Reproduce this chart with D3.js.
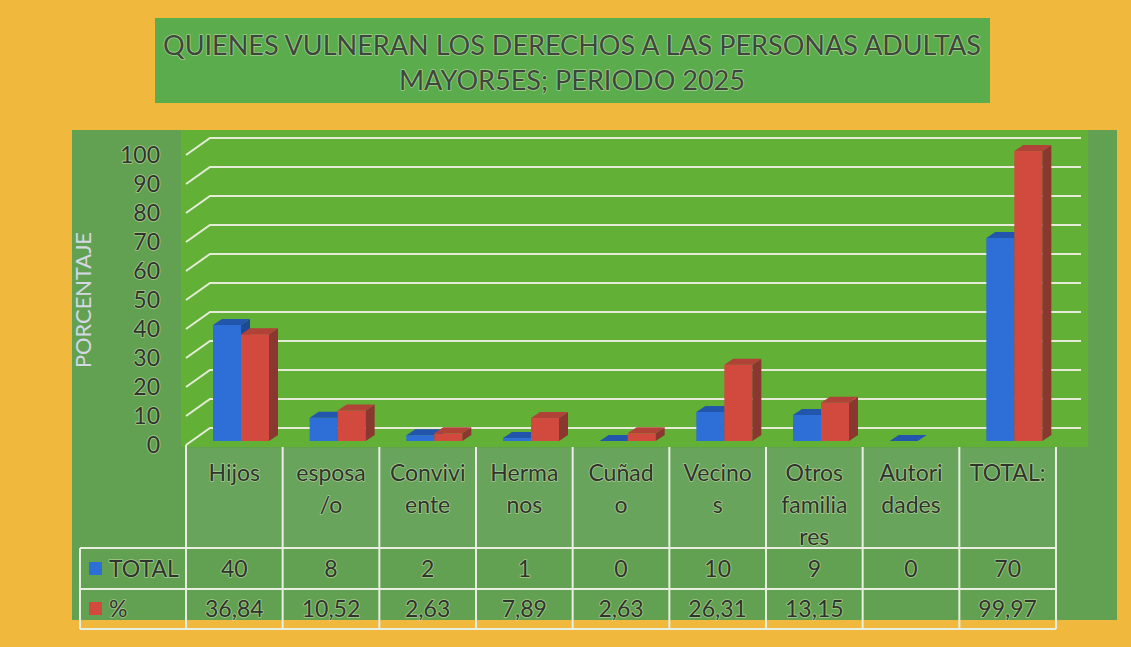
<!DOCTYPE html>
<html>
<head>
<meta charset="utf-8">
<script src="https://cdn.jsdelivr.net/npm/d3@7"></script>
<style>
  html, body { margin: 0; padding: 0; background: #f0b83c; }
  svg { display: block; }
  .emb { paint-order: stroke; stroke: rgba(236,242,205,0.5); stroke-width: 1.6px; stroke-linejoin: round; }
</style>
</head>
<body>
<svg id="chart" width="1131" height="647"></svg>
<script>
// Who violates the rights of older adults, 2025
const titleLines = [
  "QUIENES VULNERAN LOS DERECHOS A LAS PERSONAS ADULTAS",
  "MAYOR5ES; PERIODO 2025"
];
const categories = ["Hijos", "esposa/o", "Conviviente", "Hermanos", "Cuñado",
                    "Vecinos", "Otros familiares", "Autoridades", "TOTAL:"];
const categoryLines = [["Hijos"], ["esposa", "/o"], ["Convivi", "ente"], ["Herma", "nos"],
                       ["Cuñad", "o"], ["Vecino", "s"], ["Otros", "familia", "res"],
                       ["Autori", "dades"], ["TOTAL:"]];
const totalValues = [40, 8, 2, 1, 0, 10, 9, 0, 70];
const pctValues = [36.84, 10.52, 2.63, 7.89, 2.63, 26.31, 13.15, null, 99.97];
const seriesNames = ["TOTAL", "%"];
const yTicks = [0, 10, 20, 30, 40, 50, 60, 70, 80, 90, 100];
const yTitle = "PORCENTAJE";

const svg = d3.select("#chart");
const fontFam = "Lato, 'Open Sans', sans-serif";
const textCol = "#2e352b";
const esLocale = d3.formatLocale({ decimal: ",", thousands: ".", grouping: [3], currency: ["", ""] });
const fmtPct = esLocale.format(".2f");

// page background
svg.append("rect").attr("width", 1131).attr("height", 647).attr("fill", "#f0b83c");

// title box
svg.append("rect").attr("x", 155).attr("y", 18).attr("width", 835).attr("height", 85)
  .attr("fill", "#5aac4c");
const titleWidths = [818, 346];
svg.selectAll("text.title").data(titleLines).join("text")
  .attr("class", "title emb")
  .attr("x", 572).attr("y", (d, i) => 55 + i * 35)
  .attr("text-anchor", "middle")
  .attr("textLength", (d, i) => titleWidths[i]).attr("lengthAdjust", "spacingAndGlyphs")
  .attr("font-family", fontFam).attr("font-size", 27)
  .attr("fill", "#3e473c")
  .text(d => d);

// chart panel and plot area
svg.append("rect").attr("x", 72).attr("y", 130).attr("width", 1045).attr("height", 490)
  .attr("fill", "#63a152");
svg.append("rect").attr("x", 181).attr("y", 130).attr("width", 907).attr("height", 317)
  .attr("fill", "#62b035");
svg.append("rect").attr("x", 187).attr("y", 448).attr("width", 869).attr("height", 100)
  .attr("fill", "#68a45c");

// scales
const x = d3.scaleBand().domain(categories).range([186, 1056]).padding(0);
const y = d3.scaleLinear().domain([0, 100]).range([441, 151]);
const depth = { dx: 9, dy: -6 };
const wall = { x0: 186, x1: 210, x2: 1081, front: 4, back: -13 };

// gridlines (floor-to-wall perspective)
const grid = svg.append("g");
grid.selectAll("path").data(yTicks).join("path")
  .attr("d", v => {
    const p = d3.path();
    p.moveTo(wall.x0, y(v) + wall.front);
    p.lineTo(wall.x1, y(v) + wall.back);
    p.lineTo(wall.x2, y(v) + wall.back);
    return p.toString();
  })
  .attr("fill", "none").attr("stroke", "#e4ecd8").attr("stroke-width", 2);

// y tick labels
svg.append("g").selectAll("text").data(yTicks).join("text")
  .attr("class", "emb")
  .attr("x", 160).attr("y", v => y(v) + wall.front)
  .attr("dy", "0.35em").attr("text-anchor", "end")
  .attr("font-family", fontFam).attr("font-size", 23).attr("fill", textCol)
  .text(v => v);

// y axis title
svg.append("text")
  .attr("transform", "translate(91,300) rotate(-90)")
  .attr("text-anchor", "middle")
  .attr("textLength", 136).attr("lengthAdjust", "spacingAndGlyphs")
  .attr("font-family", fontFam).attr("font-size", 21).attr("fill", "#d4d8e4")
  .text(yTitle);

// 3D bars
const barW = 28;
const palette = [
  { front: "#2d6fd6", top: "#2256ad", side: "#1d4a93" },
  { front: "#d2493d", top: "#b04237", side: "#8a382f" }
];
const series = [totalValues, pctValues];
const bars = svg.append("g");
series.forEach((vals, s) => {
  const col = palette[s];
  categories.forEach((c, i) => {
    const v = vals[i];
    if (v === null || v === undefined) return;
    const x0 = x(c) + 27 + s * barW;
    const x1 = x0 + barW;
    const yb = y(0), yt = y(v);
    const g = bars.append("g");
    if (yb - yt > 0.5) {
      g.append("rect").attr("x", x0).attr("y", yt).attr("width", barW).attr("height", yb - yt)
        .attr("fill", col.front);
      g.append("path").attr("d", `M${x1},${yt}L${x1 + depth.dx},${yt + depth.dy}L${x1 + depth.dx},${yb + depth.dy}L${x1},${yb}Z`)
        .attr("fill", col.side);
    }
    g.append("path").attr("d", `M${x0},${yt}L${x0 + depth.dx},${yt + depth.dy}L${x1 + depth.dx},${yt + depth.dy}L${x1},${yt}Z`)
      .attr("fill", col.top);
  });
});

// data table
const lineCol = "#e8eee0";
const table = svg.append("g").attr("stroke", lineCol).attr("stroke-width", 2).attr("fill", "none");
const rowY = [548, 589, 629];
rowY.forEach(yy => table.append("line").attr("x1", 80).attr("x2", 1056).attr("y1", yy).attr("y2", yy));
table.append("line").attr("x1", 80).attr("x2", 80).attr("y1", 548).attr("y2", 629);
const bounds = categories.map(c => x(c)).concat([x.range()[1]]);
table.selectAll("line.v").data(bounds).join("line").attr("class", "v")
  .attr("x1", d => d).attr("x2", d => d)
  .attr("y1", (d, i) => i === 0 ? y(0) + wall.front : 447).attr("y2", 629);

// category labels
const labels = svg.append("g");
categories.forEach((c, i) => {
  labels.append("text").attr("class", "emb")
    .attr("x", x(c) + x.bandwidth() / 2).attr("y", 473)
    .attr("text-anchor", "middle")
    .attr("font-family", fontFam).attr("font-size", 23).attr("fill", textCol)
    .selectAll("tspan").data(categoryLines[i]).join("tspan")
    .attr("x", x(c) + x.bandwidth() / 2).attr("dy", (d, k) => k === 0 ? "0.35em" : 32)
    .text(d => d);
});

// value rows
const rows = [
  { vals: totalValues.map(v => v === null ? "" : String(v)), y: 569 },
  { vals: pctValues.map(v => v === null ? "" : fmtPct(v)), y: 609 }
];
rows.forEach((r, s) => {
  svg.append("g").selectAll("text").data(categories).join("text")
    .attr("class", "emb")
    .attr("x", c => x(c) + x.bandwidth() / 2).attr("y", r.y).attr("dy", "0.35em")
    .attr("text-anchor", "middle")
    .attr("font-family", fontFam).attr("font-size", 23).attr("fill", textCol)
    .text((c, i) => r.vals[i]);
  svg.append("rect").attr("x", 89).attr("y", r.y - 7).attr("width", 13).attr("height", 13)
    .attr("fill", palette[s].front);
  svg.append("text").attr("class", "emb")
    .attr("x", 109).attr("y", r.y).attr("dy", "0.35em")
    .attr("font-family", fontFam).attr("font-size", 23).attr("fill", textCol)
    .text(seriesNames[s]);
});
</script>
</body>
</html>
